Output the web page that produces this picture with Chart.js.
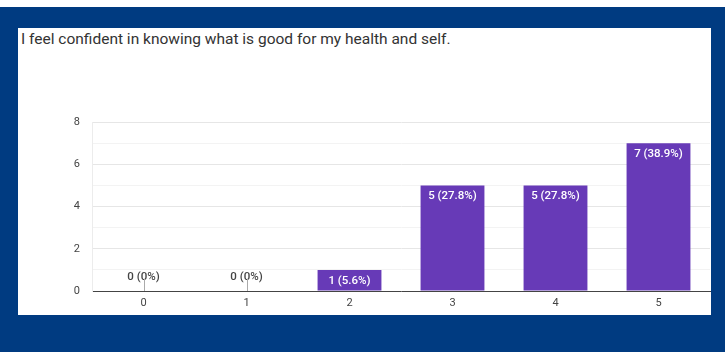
<!DOCTYPE html>
<html>
<head>
<meta charset="utf-8">
<script src="https://cdn.jsdelivr.net/npm/chart.js@4"></script>
<style>
  html, body { margin: 0; padding: 0; }
  body { width: 725px; height: 352px; background: #003b81; position: relative; overflow: hidden; }
  .topStrip { position: absolute; left: 0; top: 0; width: 725px; height: 7px; background: #fff; }
  .panel { position: absolute; left: 18px; top: 28px; width: 693px; height: 287px; background: #fff; }
  .title { position: absolute; left: 3px; top: 2px; font: 15.5px Roboto, Arial, sans-serif; color: #333; }
  canvas { position: absolute; left: 0; top: 0; }
</style>
</head>
<body>
<div class="topStrip"></div>
<div class="panel">
  <div class="title">I feel confident in knowing what is good for my health and self.</div>
  <canvas id="chart" width="693" height="287"></canvas>
</div>
<script>
const categories = ["0", "1", "2", "3", "4", "5"];
const counts = [0, 0, 1, 5, 5, 7];
const percents = ["0%", "0%", "5.6%", "27.8%", "27.8%", "38.9%"];
const yTicks = [0, 2, 4, 6, 8];

// labels like "5 (27.8%)" on top of each bar
const barLabels = {
  id: "barLabels",
  afterDatasetsDraw(chart) {
    const { ctx } = chart;
    const meta = chart.getDatasetMeta(0);
    const zeroY = chart.scales.y.getPixelForValue(0);
    ctx.save();
    ctx.font = "500 11.5px Roboto, Arial, sans-serif";
    ctx.textAlign = "center";
    meta.data.forEach((bar, i) => {
      const text = counts[i] + " (" + percents[i] + ")";
      if (counts[i] > 0) {
        ctx.fillStyle = "#fff";
        ctx.textBaseline = "top";
        ctx.fillText(text, bar.x, bar.y + 5);
      } else {
        ctx.fillStyle = "#444";
        ctx.textBaseline = "bottom";
        ctx.fillText(text, bar.x, zeroY - 8);
        ctx.strokeStyle = "#aaa";
        ctx.lineWidth = 1;
        ctx.beginPath();
        ctx.moveTo(Math.round(bar.x) + 0.5, zeroY - 12);
        ctx.lineTo(Math.round(bar.x) + 0.5, zeroY);
        ctx.stroke();
      }
    });
    ctx.restore();
  }
};

new Chart(document.getElementById("chart"), {
  type: "bar",
  data: {
    labels: categories,
    datasets: [{
      data: counts,
      backgroundColor: "#673ab7",
      borderWidth: 0,
      barPercentage: 0.62,
      categoryPercentage: 1
    }]
  },
  options: {
    responsive: false,
    animation: false,
    layout: { padding: { top: 94, right: 1, left: 0, bottom: 0 } },
    plugins: { legend: { display: false }, tooltip: { enabled: false } },
    scales: {
      x: {
        grid: { display: false, drawTicks: false },
        border: { color: "#444", width: 1 },
        ticks: { color: "#444", font: { size: 11, family: "Roboto, Arial, sans-serif" }, padding: 6 },
        afterFit: (s) => { s.height = 24; }
      },
      y: {
        min: 0,
        max: 8,
        grid: {
          drawTicks: false,
          color: (c) => (c.tick && c.tick.value % 2 === 0 ? "#e6e6e6" : "#f3f3f3")
        },
        border: { display: true, color: "#ececec" },
        ticks: {
          stepSize: 1,
          color: "#444",
          padding: 12,
          font: { size: 11, family: "Roboto, Arial, sans-serif" },
          callback: (v) => (yTicks.includes(v) ? String(v) : "")
        },
        afterFit: (s) => { s.width = 74; }
      }
    }
  },
  plugins: [barLabels]
});
</script>
</body>
</html>
